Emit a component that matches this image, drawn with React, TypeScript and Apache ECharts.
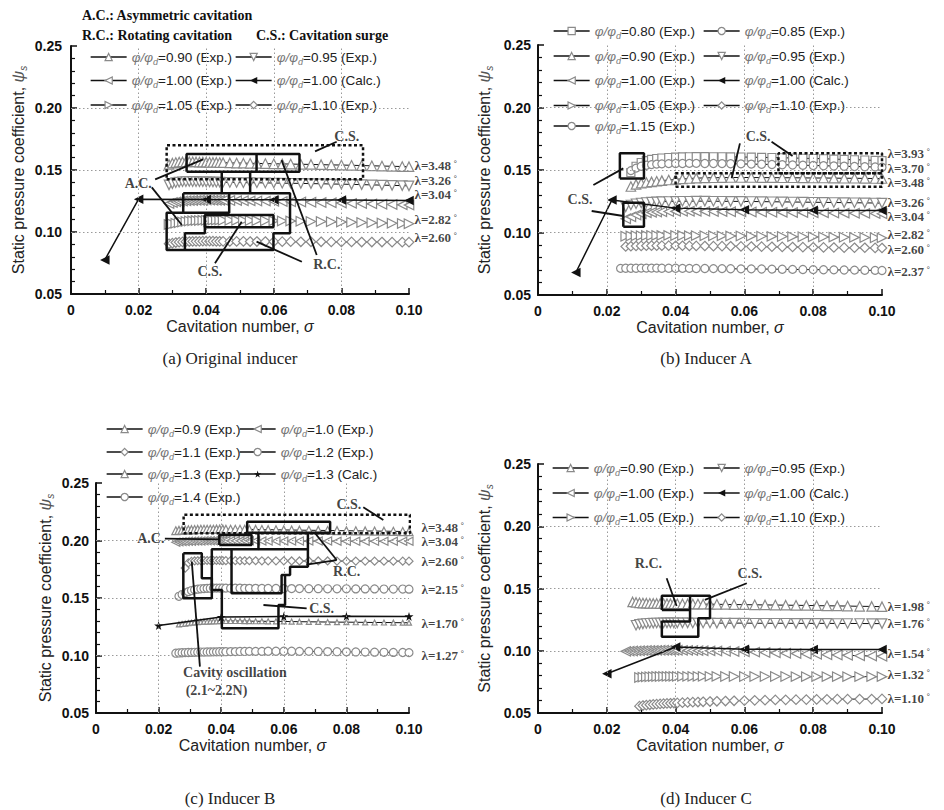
import { useEffect, useRef } from "react";
import * as echarts from "echarts";

const SANS = "'Liberation Sans', Arial, sans-serif";
const SERIF = "'Liberation Serif', 'Times New Roman', serif";

type Pt = [number, number];

// ---------- (a) Original inducer ----------
const SIG_A = [0.029, 0.030, 0.031, 0.032, 0.033, 0.034, 0.035, 0.036, 0.037, 0.038,
  0.039, 0.040, 0.041, 0.042, 0.043, 0.044, 0.045, 0.047, 0.049, 0.051,
  0.053, 0.055, 0.0575, 0.060, 0.0625, 0.065, 0.068, 0.071, 0.074, 0.077,
  0.080, 0.083, 0.086, 0.089, 0.092, 0.095, 0.098, 0.100];
const A_090 = [0.1545, 0.1555, 0.1560, 0.1564, 0.1565, 0.1566, 0.1567, 0.1566, 0.1565, 0.1564,
  0.1564, 0.1563, 0.1562, 0.1561, 0.1561, 0.1560, 0.1559, 0.1557, 0.1556, 0.1555,
  0.1554, 0.1553, 0.1552, 0.1550, 0.1549, 0.1548, 0.1546, 0.1545, 0.1543, 0.1541,
  0.1540, 0.1538, 0.1536, 0.1534, 0.1532, 0.1530, 0.1528, 0.1527];
const A_095 = [0.1380, 0.1390, 0.1398, 0.1402, 0.1405, 0.1406, 0.1407, 0.1406, 0.1406, 0.1405,
  0.1405, 0.1404, 0.1404, 0.1403, 0.1402, 0.1402, 0.1401, 0.1400, 0.1399, 0.1398,
  0.1398, 0.1397, 0.1396, 0.1395, 0.1394, 0.1393, 0.1392, 0.1390, 0.1389, 0.1387,
  0.1386, 0.1384, 0.1382, 0.1380, 0.1378, 0.1376, 0.1374, 0.1372];
const A_100 = [0.1230, 0.1238, 0.1243, 0.1246, 0.1250, 0.1252, 0.1253, 0.1254, 0.1255, 0.1256,
  0.1256, 0.1257, 0.1257, 0.1256, 0.1256, 0.1255, 0.1255, 0.1254, 0.1253, 0.1252,
  0.1251, 0.1250, 0.1249, 0.1247, 0.1246, 0.1244, 0.1242, 0.1240, 0.1238, 0.1236,
  0.1234, 0.1231, 0.1229, 0.1227, 0.1224, 0.1222, 0.1219, 0.1217];
const A_105 = [0.1060, 0.1065, 0.1070, 0.1075, 0.1080, 0.1084, 0.1088, 0.1090, 0.1092, 0.1093,
  0.1094, 0.1095, 0.1095, 0.1096, 0.1096, 0.1096, 0.1095, 0.1095, 0.1094, 0.1093,
  0.1093, 0.1092, 0.1091, 0.1090, 0.1089, 0.1088, 0.1087, 0.1085, 0.1084, 0.1082,
  0.1080, 0.1078, 0.1076, 0.1074, 0.1072, 0.1070, 0.1068, 0.1066];
const A_110 = [0.0905, 0.0910, 0.0915, 0.0918, 0.0920, 0.0922, 0.0923, 0.0924, 0.0925, 0.0925,
  0.0926, 0.0926, 0.0926, 0.0926, 0.0925, 0.0925, 0.0925, 0.0924, 0.0924, 0.0924,
  0.0923, 0.0923, 0.0923, 0.0922, 0.0922, 0.0922, 0.0921, 0.0921, 0.0921, 0.0920,
  0.0920, 0.0920, 0.0919, 0.0919, 0.0919, 0.0918, 0.0918, 0.0918];
const A_CALC_SIG = [0.010, 0.020, 0.040, 0.060, 0.080, 0.100];
const A_CALC = [0.0775, 0.1265, 0.1262, 0.1260, 0.1258, 0.1255];
const LAMBDA_A = ["3.48", "3.26", "3.04", "2.82", "2.60"];
const LAMBDA_A_AT = [0.1536, 0.1419, 0.1302, 0.1102, 0.0954];

// ---------- (b) Inducer A ----------
const SIG_B = [0.024, 0.0255, 0.027, 0.0285, 0.030, 0.0315, 0.033, 0.0345, 0.036, 0.038,
  0.040, 0.042, 0.044, 0.046, 0.0485, 0.051, 0.0535, 0.056, 0.059, 0.062,
  0.065, 0.068, 0.071, 0.074, 0.077, 0.080, 0.083, 0.086, 0.089, 0.092,
  0.095, 0.098, 0.100];
const B_080 = [null, null, 0.1480, 0.1530, 0.1560, 0.1575, 0.1585, 0.1592, 0.1596, 0.1600,
  0.1603, 0.1605, 0.1606, 0.1607, 0.1607, 0.1606, 0.1606, 0.1605, 0.1604, 0.1603,
  0.1601, 0.1600, 0.1598, 0.1596, 0.1594, 0.1592, 0.1590, 0.1587, 0.1585, 0.1582,
  0.1580, 0.1577, 0.1575];
const B_085 = [null, null, 0.1495, 0.1515, 0.1530, 0.1538, 0.1543, 0.1547, 0.1549, 0.1551,
  0.1552, 0.1552, 0.1553, 0.1553, 0.1552, 0.1552, 0.1551, 0.1550, 0.1549, 0.1547,
  0.1546, 0.1544, 0.1542, 0.1540, 0.1538, 0.1536, 0.1534, 0.1532, 0.1530, 0.1528,
  0.1526, 0.1524, 0.1522];
const B_090 = [null, null, 0.1368, 0.1385, 0.1395, 0.1400, 0.1405, 0.1410, 0.1415, 0.1420,
  0.1425, 0.1429, 0.1432, 0.1435, 0.1437, 0.1438, 0.1439, 0.1440, 0.1440, 0.1440,
  0.1439, 0.1439, 0.1438, 0.1438, 0.1437, 0.1436, 0.1436, 0.1435, 0.1434, 0.1434,
  0.1433, 0.1432, 0.1432];
const B_095 = [null, 0.1205, 0.1220, 0.1230, 0.1236, 0.1240, 0.1243, 0.1245, 0.1247, 0.1248,
  0.1249, 0.1250, 0.1250, 0.1251, 0.1251, 0.1250, 0.1250, 0.1249, 0.1249, 0.1248,
  0.1247, 0.1246, 0.1245, 0.1244, 0.1243, 0.1242, 0.1241, 0.1240, 0.1239, 0.1238,
  0.1237, 0.1236, 0.1235];
const B_100 = [null, 0.1110, 0.1125, 0.1140, 0.1150, 0.1157, 0.1161, 0.1164, 0.1166, 0.1168,
  0.1169, 0.1170, 0.1170, 0.1169, 0.1169, 0.1168, 0.1167, 0.1166, 0.1165, 0.1164,
  0.1163, 0.1162, 0.1161, 0.1160, 0.1159, 0.1158, 0.1157, 0.1156, 0.1155, 0.1154,
  0.1153, 0.1152, 0.1150];
const B_CALC_SIG = [0.011, 0.0215, 0.040, 0.060, 0.080, 0.100];
const B_CALC = [0.0680, 0.1260, 0.1195, 0.1182, 0.1178, 0.1176];
const B_105 = [null, 0.0970, 0.0972, 0.0974, 0.0975, 0.0976, 0.0976, 0.0977, 0.0977, 0.0977,
  0.0976, 0.0976, 0.0975, 0.0975, 0.0974, 0.0974, 0.0973, 0.0972, 0.0972, 0.0971,
  0.0970, 0.0969, 0.0968, 0.0967, 0.0966, 0.0965, 0.0964, 0.0963, 0.0962, 0.0961,
  0.0960, 0.0958, 0.0957];
const B_110 = [null, 0.0888, 0.0890, 0.0892, 0.0893, 0.0894, 0.0895, 0.0895, 0.0895, 0.0895,
  0.0894, 0.0894, 0.0893, 0.0893, 0.0892, 0.0891, 0.0891, 0.0890, 0.0889, 0.0888,
  0.0887, 0.0886, 0.0885, 0.0884, 0.0883, 0.0882, 0.0881, 0.0880, 0.0879, 0.0878,
  0.0878, 0.0877, 0.0876];
const B_115 = [0.0713, 0.0714, 0.0714, 0.0714, 0.0715, 0.0715, 0.0715, 0.0715, 0.0714, 0.0714,
  0.0714, 0.0713, 0.0713, 0.0712, 0.0712, 0.0711, 0.0711, 0.0710, 0.0709, 0.0709,
  0.0708, 0.0707, 0.0706, 0.0705, 0.0704, 0.0703, 0.0702, 0.0701, 0.0700, 0.0699,
  0.0698, 0.0697, 0.0696];
const LAMBDA_B = ["3.93", "3.70", "3.48", "3.26", "3.04", "2.82", "2.60", "2.37"];
const LAMBDA_B_AT = [0.1632, 0.1516, 0.1400, 0.1244, 0.1128, 0.0984, 0.0868, 0.0686];

// ---------- (c) Inducer B ----------
const SIG_C = [0.0255, 0.0265, 0.0275, 0.0285, 0.0295, 0.0305, 0.0315, 0.0325, 0.0335, 0.0345,
  0.0355, 0.0365, 0.0375, 0.0385, 0.0395, 0.0405, 0.0415, 0.043, 0.0445, 0.046,
  0.0475, 0.049, 0.051, 0.053, 0.055, 0.0575, 0.060, 0.0625, 0.065, 0.068,
  0.071, 0.074, 0.077, 0.080, 0.083, 0.086, 0.089, 0.092, 0.095, 0.098,
  0.100];
const C_09 = [0.2085, 0.2088, 0.2090, 0.2092, 0.2093, 0.2094, 0.2095, 0.2096, 0.2097, 0.2097,
  0.2098, 0.2098, 0.2098, 0.2099, 0.2099, 0.2099, 0.2098, 0.2098, 0.2098, 0.2097,
  0.2097, 0.2096, 0.2096, 0.2095, 0.2094, 0.2093, 0.2092, 0.2091, 0.2090, 0.2089,
  0.2088, 0.2087, 0.2086, 0.2085, 0.2084, 0.2083, 0.2082, 0.2081, 0.2080, 0.2078,
  0.2077];
const C_10 = [0.1985, 0.1988, 0.1990, 0.1992, 0.1993, 0.1994, 0.1995, 0.1996, 0.1996, 0.1997,
  0.1997, 0.1997, 0.1998, 0.1998, 0.1998, 0.1998, 0.1998, 0.1998, 0.1998, 0.1997,
  0.1997, 0.1997, 0.1997, 0.1996, 0.1996, 0.1996, 0.1996, 0.1995, 0.1995, 0.1995,
  0.1995, 0.1995, 0.1994, 0.1994, 0.1994, 0.1994, 0.1994, 0.1993, 0.1993, 0.1993,
  0.1993];
const C_11 = [null, null, null, 0.1760, 0.1805, 0.1818, 0.1822, 0.1824, 0.1825, 0.1826,
  0.1826, 0.1826, 0.1826, 0.1826, 0.1826, 0.1825, 0.1825, 0.1825, 0.1825, 0.1824,
  0.1824, 0.1824, 0.1824, 0.1823, 0.1823, 0.1823, 0.1823, 0.1822, 0.1822, 0.1822,
  0.1822, 0.1822, 0.1821, 0.1821, 0.1821, 0.1821, 0.1820, 0.1820, 0.1820, 0.1820,
  0.1820];
const C_12 = [null, 0.1515, 0.1530, 0.1545, 0.1555, 0.1565, 0.1572, 0.1577, 0.1580, 0.1582,
  0.1584, 0.1585, 0.1586, 0.1586, 0.1586, 0.1586, 0.1586, 0.1585, 0.1585, 0.1585,
  0.1584, 0.1584, 0.1584, 0.1583, 0.1583, 0.1583, 0.1582, 0.1582, 0.1582, 0.1581,
  0.1581, 0.1580, 0.1580, 0.1580, 0.1579, 0.1579, 0.1579, 0.1578, 0.1578, 0.1578,
  0.1577];
const C_13 = [null, 0.1270, 0.1274, 0.1278, 0.1282, 0.1285, 0.1288, 0.1290, 0.1292, 0.1294,
  0.1295, 0.1296, 0.1297, 0.1298, 0.1299, 0.1300, 0.1300, 0.1300, 0.1300, 0.1300,
  0.1299, 0.1299, 0.1298, 0.1298, 0.1297, 0.1297, 0.1296, 0.1295, 0.1294, 0.1293,
  0.1292, 0.1291, 0.1290, 0.1290, 0.1289, 0.1288, 0.1287, 0.1287, 0.1286, 0.1285,
  0.1285];
const C_CALC_SIG = [0.020, 0.040, 0.060, 0.080, 0.100];
const C_CALC = [0.1260, 0.1335, 0.1340, 0.1342, 0.1340];
const C_14 = [0.1020, 0.1022, 0.1024, 0.1025, 0.1026, 0.1027, 0.1028, 0.1029, 0.1030, 0.1030,
  0.1031, 0.1031, 0.1032, 0.1032, 0.1033, 0.1033, 0.1033, 0.1034, 0.1034, 0.1035,
  0.1035, 0.1036, 0.1036, 0.1036, 0.1037, 0.1037, 0.1037, 0.1037, 0.1036, 0.1036,
  0.1035, 0.1034, 0.1033, 0.1032, 0.1031, 0.1030, 0.1029, 0.1028, 0.1027, 0.1026,
  0.1025];
const LAMBDA_C = ["3.48", "3.04", "2.60", "2.15", "1.70", "1.27"];
const LAMBDA_C_AT = [0.2113, 0.1987, 0.1816, 0.1570, 0.1274, 0.0996];

// ---------- (d) Inducer C ----------
const SIG_D = [0.0255, 0.0265, 0.0275, 0.0285, 0.0295, 0.0305, 0.0315, 0.0325, 0.0335, 0.0345,
  0.0355, 0.0365, 0.0375, 0.0385, 0.0395, 0.0405, 0.042, 0.0435, 0.045, 0.0465,
  0.048, 0.050, 0.052, 0.0545, 0.057, 0.060, 0.063, 0.066, 0.069, 0.072,
  0.075, 0.078, 0.081, 0.084, 0.087, 0.090, 0.0935, 0.097, 0.100];
const D_090 = [null, null, 0.1392, 0.1388, 0.1385, 0.1383, 0.1382, 0.1381, 0.1380, 0.1380,
  0.1379, 0.1379, 0.1378, 0.1378, 0.1377, 0.1377, 0.1376, 0.1376, 0.1375, 0.1375,
  0.1374, 0.1374, 0.1373, 0.1372, 0.1371, 0.1370, 0.1369, 0.1368, 0.1367, 0.1366,
  0.1365, 0.1364, 0.1362, 0.1361, 0.1360, 0.1359, 0.1357, 0.1356, 0.1354];
const D_095 = [null, null, null, 0.1205, 0.1212, 0.1216, 0.1219, 0.1221, 0.1222, 0.1223,
  0.1223, 0.1224, 0.1224, 0.1224, 0.1224, 0.1224, 0.1224, 0.1224, 0.1223, 0.1223,
  0.1223, 0.1223, 0.1222, 0.1222, 0.1222, 0.1222, 0.1221, 0.1221, 0.1221, 0.1221,
  0.1220, 0.1220, 0.1220, 0.1220, 0.1219, 0.1219, 0.1219, 0.1218, 0.1218];
const D_100 = [0.0995, 0.0997, 0.0998, 0.0999, 0.1000, 0.1001, 0.1002, 0.1002, 0.1003, 0.1003,
  0.1004, 0.1004, 0.1004, 0.1004, 0.1004, 0.1004, 0.1003, 0.1003, 0.1002, 0.1001,
  0.1000, 0.0999, 0.0998, 0.0996, 0.0994, 0.0992, 0.0989, 0.0986, 0.0983, 0.0980,
  0.0977, 0.0974, 0.0971, 0.0968, 0.0966, 0.0963, 0.0960, 0.0958, 0.0955];
const D_CALC_SIG = [0.020, 0.040, 0.060, 0.080, 0.100];
const D_CALC = [0.0815, 0.1030, 0.1012, 0.1010, 0.1010];
const D_105 = [null, null, null, null, 0.0785, 0.0788, 0.0790, 0.0791, 0.0792, 0.0793,
  0.0793, 0.0794, 0.0794, 0.0794, 0.0794, 0.0794, 0.0794, 0.0794, 0.0794, 0.0794,
  0.0794, 0.0794, 0.0794, 0.0793, 0.0793, 0.0793, 0.0793, 0.0793, 0.0793, 0.0793,
  0.0792, 0.0792, 0.0792, 0.0792, 0.0792, 0.0792, 0.0792, 0.0792, 0.0792];
const D_110 = [null, null, null, null, 0.0555, 0.0560, 0.0563, 0.0566, 0.0569, 0.0571,
  0.0573, 0.0575, 0.0577, 0.0578, 0.0580, 0.0581, 0.0583, 0.0585, 0.0587, 0.0588,
  0.0590, 0.0592, 0.0594, 0.0596, 0.0598, 0.0600, 0.0602, 0.0603, 0.0605, 0.0606,
  0.0607, 0.0608, 0.0609, 0.0610, 0.0611, 0.0611, 0.0612, 0.0612, 0.0613];
const LAMBDA_D = ["1.98", "1.76", "1.54", "1.32", "1.10"];
const LAMBDA_D_AT = [0.1359, 0.1215, 0.0980, 0.0811, 0.0618];

// ---------- instability regions (σ, ψ) ----------
const A_SOLID: Pt[][] = [
  [[0.0342, 0.1486], [0.0342, 0.1629], [0.0676, 0.1629], [0.0676, 0.1486], [0.0342, 0.1486]],
  [[0.0549, 0.1629], [0.0549, 0.1486]],
  [[0.0446, 0.1486], [0.0446, 0.1312]],
  [[0.0530, 0.1486], [0.0530, 0.1312]],
  [[0.0332, 0.1312], [0.0648, 0.1312], [0.0648, 0.0990], [0.0599, 0.0990], [0.0599, 0.0855],
    [0.0283, 0.0855], [0.0283, 0.1156], [0.0332, 0.1156], [0.0332, 0.1312]],
  [[0.0468, 0.1312], [0.0468, 0.1156], [0.0332, 0.1156]],
  [[0.0337, 0.0855], [0.0337, 0.0990], [0.0396, 0.0990], [0.0396, 0.1137]],
  [[0.0396, 0.1038], [0.0396, 0.1137], [0.0599, 0.1137], [0.0599, 0.1038], [0.0396, 0.1038]],
];
const A_DASHED: Pt[][] = [
  [[0.0283, 0.1425], [0.0864, 0.1425], [0.0864, 0.1700], [0.0283, 0.1700], [0.0283, 0.1425]],
];
const B_SOLID: Pt[][] = [
  [[0.0238, 0.1433], [0.0308, 0.1433], [0.0308, 0.1634], [0.0238, 0.1634], [0.0238, 0.1433]],
  [[0.0248, 0.1046], [0.0308, 0.1046], [0.0308, 0.1238], [0.0248, 0.1238], [0.0248, 0.1046]],
];
const B_DASHED: Pt[][] = [
  [[0.0699, 0.1474], [0.1000, 0.1474], [0.1000, 0.1634], [0.0699, 0.1634], [0.0699, 0.1474]],
  [[0.0400, 0.1366], [0.1000, 0.1366], [0.1000, 0.1474], [0.0400, 0.1474], [0.0400, 0.1366]],
];
const C_SOLID: Pt[][] = [
  [[0.0394, 0.1961], [0.0497, 0.1961], [0.0497, 0.2048], [0.0394, 0.2048], [0.0394, 0.1961]],
  [[0.0483, 0.2068], [0.0748, 0.2068], [0.0748, 0.2164], [0.0483, 0.2164], [0.0483, 0.2068]],
  [[0.0519, 0.2068], [0.0519, 0.1925], [0.0370, 0.1925], [0.0370, 0.1570], [0.0402, 0.1570],
    [0.0402, 0.1237], [0.0583, 0.1237], [0.0583, 0.1439], [0.0604, 0.1439], [0.0604, 0.1700],
    [0.0620, 0.1700], [0.0620, 0.1772], [0.0677, 0.1772], [0.0677, 0.2068]],
  [[0.0519, 0.1925], [0.0677, 0.1925]],
  [[0.0433, 0.1925], [0.0433, 0.1541], [0.0593, 0.1541], [0.0593, 0.1700], [0.0604, 0.1700]],
  [[0.0279, 0.1889], [0.0338, 0.1889], [0.0338, 0.1671], [0.0370, 0.1671], [0.0370, 0.1497],
    [0.0279, 0.1497], [0.0279, 0.1889]],
];
const C_DASHED: Pt[][] = [
  [[0.0280, 0.2063], [0.1003, 0.2063], [0.1003, 0.2225], [0.0280, 0.2225], [0.0280, 0.2063]],
];
const D_SOLID: Pt[][] = [
  [[0.0360, 0.1327], [0.0442, 0.1327], [0.0442, 0.1442], [0.0360, 0.1442], [0.0360, 0.1327]],
  [[0.0442, 0.1442], [0.0500, 0.1442], [0.0500, 0.1261], [0.0466, 0.1261], [0.0466, 0.1113],
    [0.0360, 0.1113], [0.0360, 0.1234], [0.0442, 0.1234], [0.0442, 0.1327]],
];
const D_DASHED: Pt[][] = [];

// ---------- annotation texts and leader lines (σ, ψ) ----------
type Note = [number, number, string];
const A_NOTES: Note[] = [[0.0816, 0.1774, "C.S."], [0.0199, 0.1393, "A.C."], [0.0411, 0.0680, "C.S."], [0.0757, 0.0734, "R.C."]];
const A_LEADERS: Pt[][] = [
  [[0.0786, 0.1728], [0.0722, 0.1650]],
  [[0.0249, 0.1425], [0.0391, 0.1586]],
  [[0.0239, 0.1360], [0.0328, 0.1056]],
  [[0.0426, 0.0748], [0.0505, 0.1083]],
  [[0.0727, 0.0815], [0.0623, 0.1580]],
  [[0.0683, 0.0760], [0.0549, 0.0922]],
];
const B_NOTES: Note[] = [[0.0122, 0.1265, "C.S."], [0.0640, 0.1772, "C.S."]];
const B_LEADERS: Pt[][] = [
  [[0.0161, 0.1380], [0.0248, 0.1513]],
  [[0.0156, 0.1172], [0.0248, 0.1132]],
  [[0.0587, 0.1713], [0.0563, 0.1434]],
  [[0.0679, 0.1726], [0.0740, 0.1612]],
];
const C_NOTES: Note[] = [
  [0.0808, 0.2309, "C.S."], [0.0175, 0.2019, "A.C."], [0.0801, 0.1729, "R.C."],
  [0.0721, 0.1410, "C.S."], [0.0444, 0.0850, "Cavity oscillation"], [0.0385, 0.0700, "(2.1~2.2N)"],
];
const C_LEADERS: Pt[][] = [
  [[0.0854, 0.2289], [0.0918, 0.2178]],
  [[0.0220, 0.2016], [0.0392, 0.2010]],
  [[0.0769, 0.1830], [0.0700, 0.2063]],
  [[0.0769, 0.1830], [0.0672, 0.1790]],
  [[0.0673, 0.1410], [0.0535, 0.1439]],
  [[0.0306, 0.1816], [0.0332, 0.0903]],
];
const D_NOTES: Note[] = [[0.0321, 0.1700, "R.C."], [0.0616, 0.1622, "C.S."]];
const D_LEADERS: Pt[][] = [
  [[0.0374, 0.1582], [0.0403, 0.1359]],
  [[0.0607, 0.1542], [0.0485, 0.1408]],
];

const GRID_X = [0.02, 0.04, 0.06, 0.08];
const GRID_Y = [0.10, 0.15, 0.20];

const STAR = "path://M50,0 L61,35 L98,35 L68,57 L79,91 L50,70 L21,91 L32,57 L2,35 L39,35 Z";
const MARKS: Record<string, [string, number]> = {
  up: ["triangle", 0], down: ["triangle", 180], left: ["triangle", 90], right: ["triangle", -90],
  square: ["rect", 0], circle: ["circle", 0], diamond: ["diamond", 0], star: [STAR, 0],
};

type Spec = { ratio: string; kind: string; sig: number[]; psi: (number | null)[]; mark: string; size?: number };

const A_SERIES: Spec[] = [
  { ratio: "0.90", kind: "Exp.", sig: SIG_A, psi: A_090, mark: "up" },
  { ratio: "0.95", kind: "Exp.", sig: SIG_A, psi: A_095, mark: "down" },
  { ratio: "1.00", kind: "Exp.", sig: SIG_A, psi: A_100, mark: "left" },
  { ratio: "1.00", kind: "Calc.", sig: A_CALC_SIG, psi: A_CALC, mark: "left" },
  { ratio: "1.05", kind: "Exp.", sig: SIG_A, psi: A_105, mark: "right" },
  { ratio: "1.10", kind: "Exp.", sig: SIG_A, psi: A_110, mark: "diamond" },
];
const B_SERIES: Spec[] = [
  { ratio: "0.80", kind: "Exp.", sig: SIG_B, psi: B_080, mark: "square", size: 8 },
  { ratio: "0.85", kind: "Exp.", sig: SIG_B, psi: B_085, mark: "circle", size: 8 },
  { ratio: "0.90", kind: "Exp.", sig: SIG_B, psi: B_090, mark: "up" },
  { ratio: "0.95", kind: "Exp.", sig: SIG_B, psi: B_095, mark: "down" },
  { ratio: "1.00", kind: "Exp.", sig: SIG_B, psi: B_100, mark: "left" },
  { ratio: "1.00", kind: "Calc.", sig: B_CALC_SIG, psi: B_CALC, mark: "left" },
  { ratio: "1.05", kind: "Exp.", sig: SIG_B, psi: B_105, mark: "right" },
  { ratio: "1.10", kind: "Exp.", sig: SIG_B, psi: B_110, mark: "diamond" },
  { ratio: "1.15", kind: "Exp.", sig: SIG_B, psi: B_115, mark: "circle", size: 8 },
];
const C_SERIES: Spec[] = [
  { ratio: "0.9", kind: "Exp.", sig: SIG_C, psi: C_09, mark: "up", size: 8 },
  { ratio: "1.0", kind: "Exp.", sig: SIG_C, psi: C_10, mark: "left", size: 8 },
  { ratio: "1.1", kind: "Exp.", sig: SIG_C, psi: C_11, mark: "diamond", size: 8 },
  { ratio: "1.2", kind: "Exp.", sig: SIG_C, psi: C_12, mark: "circle", size: 8 },
  { ratio: "1.3", kind: "Exp.", sig: SIG_C, psi: C_13, mark: "up", size: 5 },
  { ratio: "1.3", kind: "Calc.", sig: C_CALC_SIG, psi: C_CALC, mark: "star", size: 9 },
  { ratio: "1.4", kind: "Exp.", sig: SIG_C, psi: C_14, mark: "circle", size: 8 },
];
const D_SERIES: Spec[] = [
  { ratio: "0.90", kind: "Exp.", sig: SIG_D, psi: D_090, mark: "up" },
  { ratio: "0.95", kind: "Exp.", sig: SIG_D, psi: D_095, mark: "down" },
  { ratio: "1.00", kind: "Exp.", sig: SIG_D, psi: D_100, mark: "left" },
  { ratio: "1.00", kind: "Calc.", sig: D_CALC_SIG, psi: D_CALC, mark: "left" },
  { ratio: "1.05", kind: "Exp.", sig: SIG_D, psi: D_105, mark: "right" },
  { ratio: "1.10", kind: "Exp.", sig: SIG_D, psi: D_110, mark: "diamond" },
];

const PANELS = [
  {
    key: "a", grid: { left: 71, top: 46, width: 338, height: 248 }, specs: A_SERIES,
    lambdas: LAMBDA_A, lambdaAt: LAMBDA_A_AT, lambdaGap: 5, notes: A_NOTES, leaders: A_LEADERS,
    solid: A_SOLID, dashed: A_DASHED, rows: [58, 81.5, 106], cols: [90, 235], yGap: 43, yLabelGap: 9,
  },
  {
    key: "b", grid: { left: 538, top: 45, width: 344, height: 250 }, specs: B_SERIES,
    lambdas: LAMBDA_B, lambdaAt: LAMBDA_B_AT, lambdaGap: 5, notes: B_NOTES, leaders: B_LEADERS,
    solid: B_SOLID, dashed: B_DASHED, rows: [32, 57, 81.5, 106.5, 127], cols: [553, 703], yGap: 44, yLabelGap: 7,
  },
  {
    key: "c", grid: { left: 96, top: 483, width: 313, height: 230 }, specs: C_SERIES,
    lambdas: LAMBDA_C, lambdaAt: LAMBDA_C_AT, lambdaGap: 12, notes: C_NOTES, leaders: C_LEADERS,
    solid: C_SOLID, dashed: C_DASHED, rows: [430, 453, 475, 498], cols: [106, 239], yGap: 41, yLabelGap: 7,
  },
  {
    key: "d", grid: { left: 538, top: 464, width: 344, height: 249 }, specs: D_SERIES,
    lambdas: LAMBDA_D, lambdaAt: LAMBDA_D_AT, lambdaGap: 5, notes: D_NOTES, leaders: D_LEADERS,
    solid: D_SOLID, dashed: D_DASHED, rows: [469, 494, 518.5], cols: [552, 703], yGap: 44, yLabelGap: 7,
  },
];

const CAPTIONS: [string, number, number][] = [
  ["(a) Original inducer", 230, 358],
  ["(b) Inducer A", 706, 358],
  ["(c) Inducer B", 230, 798],
  ["(d) Inducer C", 706, 798],
];

const pair = (xs: number[], ys: (number | null)[]): Pt[] =>
  xs.flatMap((x, i) => (ys[i] == null ? [] : [[x, ys[i] as number] as Pt]));

const INK = "#111";
const HOLLOW = { color: "#fff", borderColor: "#8a8a8a", borderWidth: 1.2 };
const SOLID_MARK = { color: INK, borderColor: INK, borderWidth: 0 };

function buildOption() {
  const grid: any[] = [];
  const xAxis: any[] = [];
  const yAxis: any[] = [];
  const series: any[] = [];
  const legend: any[] = [];

  PANELS.forEach((p, pi) => {
    grid.push({ ...p.grid, containLabel: false });
    xAxis.push({
      gridIndex: pi, type: "value", min: 0, max: 0.1, interval: 0.02,
      axisLine: { onZero: false, lineStyle: { color: INK, width: 2 } },
      axisTick: { inside: true, length: 6, lineStyle: { color: INK, width: 1.5 } },
      minorTick: { show: true, splitNumber: 2, length: 4, lineStyle: { color: INK, width: 1.2 } },
      splitLine: { show: false },
      axisLabel: {
        formatter: (v: number) => (v === 0 ? "0" : v.toFixed(2)),
        fontFamily: SANS, fontWeight: "bold", fontSize: 14, color: INK, margin: 9,
      },
      name: "Cavitation number, {i|σ}", nameLocation: "middle", nameGap: 24,
      nameTextStyle: {
        fontFamily: SANS, fontSize: 16, color: "#222",
        rich: { i: { fontFamily: SANS, fontSize: 16, fontStyle: "italic", color: "#222" } },
      },
    });
    yAxis.push({
      gridIndex: pi, type: "value", min: 0.05, max: 0.25, interval: 0.05,
      axisLine: { onZero: false, lineStyle: { color: INK, width: 2 } },
      axisTick: { inside: true, length: 6, lineStyle: { color: INK, width: 1.5 } },
      minorTick: { show: true, splitNumber: 5, length: 4, lineStyle: { color: INK, width: 1.2 } },
      splitLine: { show: false },
      axisLabel: {
        formatter: (v: number) => v.toFixed(2),
        fontFamily: SANS, fontWeight: "bold", fontSize: 14, color: INK, margin: p.yLabelGap,
      },
      name: "Static pressure coefficient, {i|ψ}{s|s}", nameLocation: "middle", nameGap: p.yGap,
      nameTextStyle: {
        fontFamily: SANS, fontSize: 16, color: "#222",
        rich: {
          i: { fontFamily: SANS, fontSize: 16, fontStyle: "italic", color: "#555", lineHeight: 20 },
          s: { fontFamily: SANS, fontSize: 10, fontStyle: "italic", color: "#555", verticalAlign: "bottom", lineHeight: 20 },
        },
      },
    });

    const ax = { xAxisIndex: pi, yAxisIndex: pi };

    // dotted reference grid
    series.push({
      type: "line", ...ax, data: [], silent: true, z: 1,
      markLine: {
        silent: true, symbol: ["none", "none"], label: { show: false }, animation: false,
        lineStyle: { type: [1.5, 2.5], color: "#9a9a9a", width: 1 },
        emphasis: { disabled: true },
        data: [...GRID_X.map((v) => ({ xAxis: v })), ...GRID_Y.map((v) => ({ yAxis: v }))],
      },
    });

    p.specs.forEach((s, si) => {
      const [symbol, rot] = MARKS[s.mark];
      const calc = s.kind.startsWith("Calc");
      const name = `${p.key}|${s.ratio}|${s.kind}`;
      const itemStyle = calc ? SOLID_MARK : HOLLOW;
      const lineStyle = { color: INK, width: calc ? 1.5 : 1 };
      series.push({
        type: "line", name, ...ax, data: pair(s.sig, s.psi),
        symbol, symbolRotate: rot, symbolSize: s.size ?? 9.5, showAllSymbol: true,
        lineStyle, itemStyle, silent: true, z: calc ? 4 : 3,
      });
      legend.push({
        data: [name], left: p.cols[si % 2], top: p.rows[Math.floor(si / 2)] - 8,
        orient: "horizontal", padding: 0, itemWidth: 36, itemHeight: 9, itemGap: 0,
        selectedMode: false,
        itemStyle: { ...itemStyle },
        lineStyle: { color: INK, width: 1.3, type: "solid" },
        formatter: (n: string) => {
          const parts = n.split("|");
          return `{p|φ/φ}{d|d}{t|=${parts[1]} (${parts[2]})}`;
        },
        textStyle: {
          fontFamily: SANS, fontSize: 13.5, color: "#222",
          rich: {
            p: { fontFamily: SANS, fontSize: 13.5, fontStyle: "italic", color: "#777", lineHeight: 18 },
            d: { fontFamily: SANS, fontSize: 9, fontStyle: "italic", color: "#777", verticalAlign: "bottom", lineHeight: 18 },
            t: { fontFamily: SANS, fontSize: 13.5, color: "#222", lineHeight: 18 },
          },
        },
      });
    });

    p.solid.forEach((poly) => {
      series.push({
        type: "line", ...ax, data: poly, symbol: "none", silent: true, z: 6,
        lineStyle: { color: INK, width: 2.5 },
      });
    });
    p.dashed.forEach((poly) => {
      series.push({
        type: "line", ...ax, data: poly, symbol: "none", silent: true, z: 6,
        lineStyle: { color: INK, width: 2.5, type: [3, 2.5] },
      });
    });
    p.leaders.forEach((seg) => {
      series.push({
        type: "line", ...ax, data: seg, symbol: "none", silent: true, z: 6,
        lineStyle: { color: INK, width: 1.8 },
      });
    });

    series.push({
      type: "scatter", ...ax, silent: true, z: 7, symbolSize: 1,
      itemStyle: { color: "rgba(0,0,0,0)" },
      data: p.notes.map(([x, y, t]) => ({ value: [x, y], name: t })),
      label: {
        show: true, position: "inside", formatter: "{b}",
        fontFamily: SERIF, fontWeight: "bold", fontSize: 14, color: INK,
      },
    });

    series.push({
      type: "scatter", ...ax, silent: true, z: 7, symbolSize: 1,
      itemStyle: { color: "rgba(0,0,0,0)" },
      data: p.lambdas.map((l, i) => ({ value: [0.1, p.lambdaAt[i]], name: `λ=${l}` })),
      label: {
        show: true, position: "right", distance: p.lambdaGap,
        formatter: (q: any) => `{l|${q.name}}{g| °}`,
        rich: {
          l: { fontFamily: SERIF, fontWeight: "bold", fontSize: 13, color: INK, lineHeight: 12 },
          g: { fontFamily: SANS, fontSize: 9, color: INK, verticalAlign: "top", lineHeight: 12 },
        },
      },
    });
  });

  const graphic: any[] = [
    { type: "text", x: 82, y: 15.5, style: { text: "A.C.: Asymmetric cavitation", font: `bold 14px ${SERIF}`, fill: INK, align: "left", verticalAlign: "middle" } },
    { type: "text", x: 82, y: 35.5, style: { text: "R.C.: Rotating cavitation", font: `bold 14px ${SERIF}`, fill: INK, align: "left", verticalAlign: "middle" } },
    { type: "text", x: 256, y: 35.5, style: { text: "C.S.: Cavitation surge", font: `bold 14px ${SERIF}`, fill: INK, align: "left", verticalAlign: "middle" } },
    ...CAPTIONS.map(([t, x, y]) => ({
      type: "text", x, y,
      style: { text: t, font: `17px ${SERIF}`, fill: "#222", align: "center", verticalAlign: "middle" },
    })),
  ];

  return {
    animation: false,
    backgroundColor: "#fff",
    textStyle: { fontFamily: SANS },
    grid, xAxis, yAxis, series, legend, graphic,
  };
}

export default function App() {
  const ref = useRef<HTMLDivElement>(null);
  useEffect(() => {
    if (!ref.current) return;
    const chart = echarts.init(ref.current, undefined, { renderer: "svg" });
    chart.setOption(buildOption() as any);
    return () => chart.dispose();
  }, []);
  return (
    <div
      ref={ref}
      style={{ position: "fixed", left: 0, top: 0, width: 944, height: 810, background: "#fff" }}
    />
  );
}
